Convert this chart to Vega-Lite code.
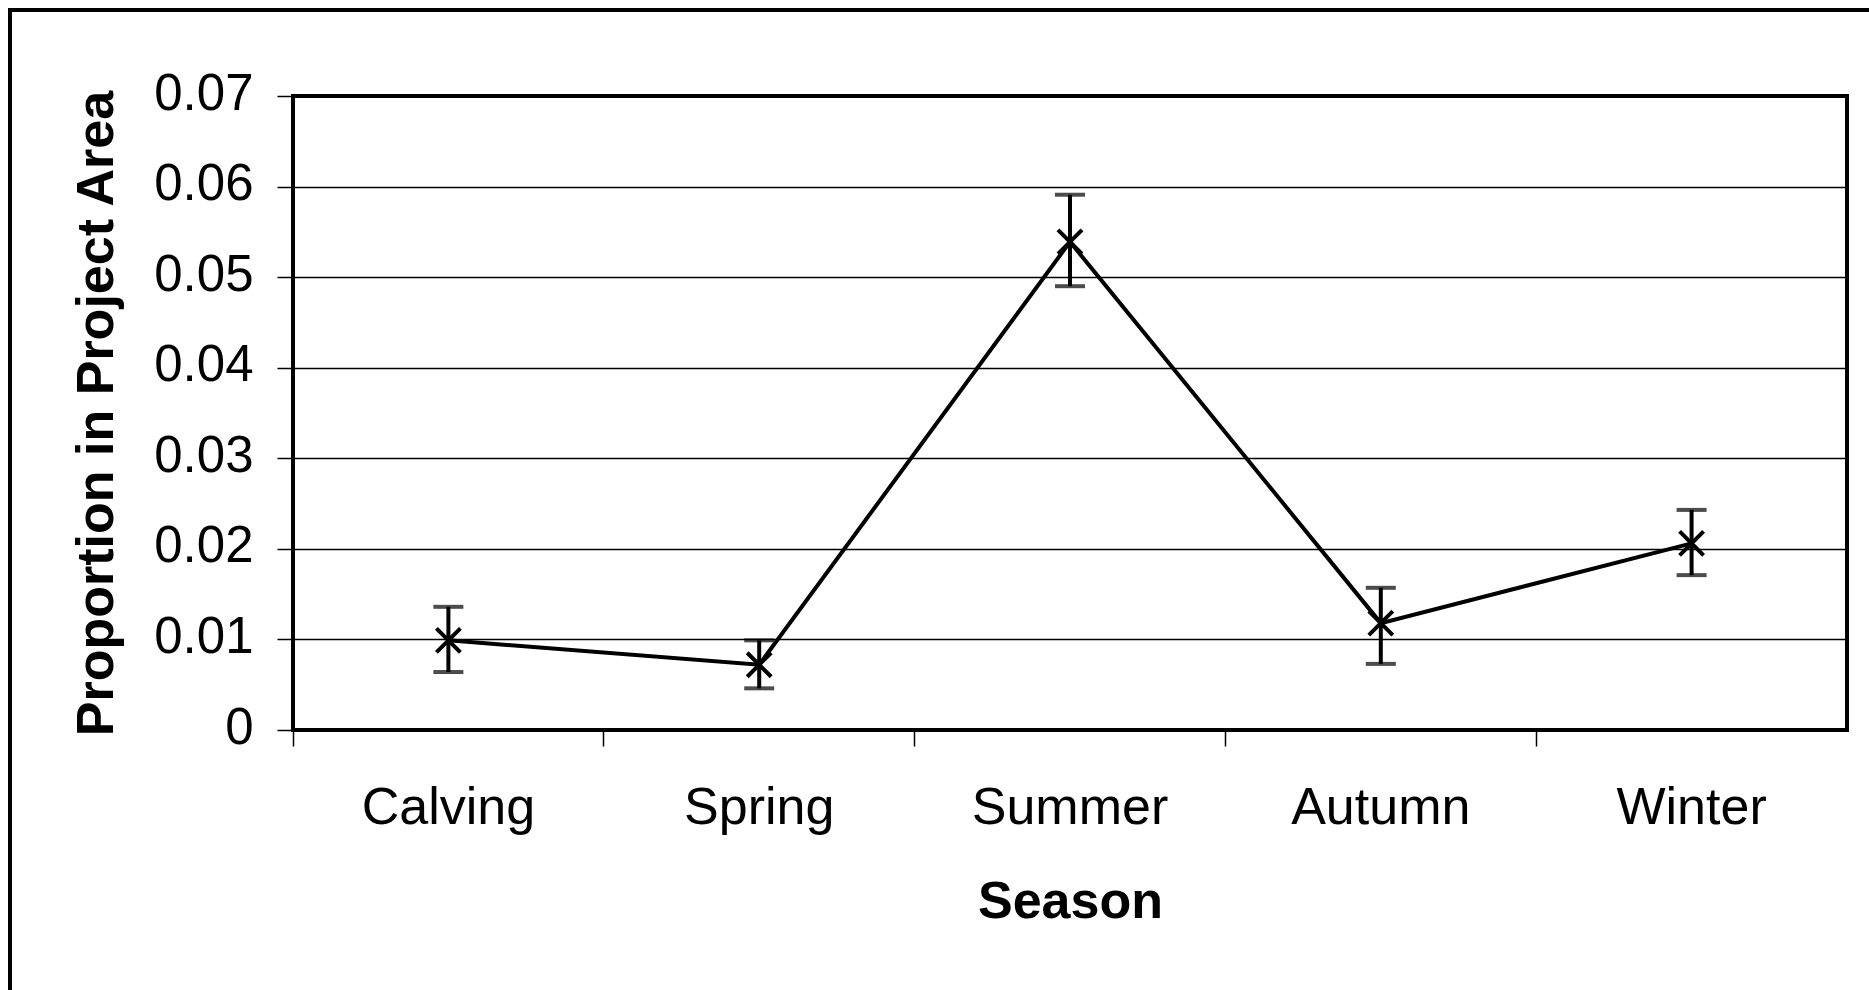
{
  "$schema": "https://vega.github.io/schema/vega-lite/v6.json",
  "width": 1554,
  "height": 634,
  "autosize": {"type": "none"},
  "padding": {"left": 293, "top": 96, "right": 22, "bottom": 260},
  "background": "white",
  "config": {
    "font": "Liberation Sans",
    "view": {"stroke": "black", "strokeWidth": 4},
    "axis": {
      "labelColor": "black",
      "titleColor": "black",
      "tickColor": "black",
      "domain": false,
      "labelLimit": 600,
      "labelFont": "Liberation Sans",
      "titleFont": "Liberation Sans"
    }
  },
  "layer": [
    {
      "data": {"values": [{"frame": "outer"}]},
      "mark": {
        "type": "rect",
        "x": -283,
        "y": -86,
        "x2": 1650,
        "y2": 1000,
        "fill": null,
        "stroke": "black",
        "strokeWidth": 4
      },
      "encoding": {}
    },
    {
      "data": {
        "values": [
          {"Season": "Calving", "value": 0.0099, "lo": 0.0064, "hi": 0.0136},
          {"Season": "Spring", "value": 0.0072, "lo": 0.0046, "hi": 0.0099},
          {"Season": "Summer", "value": 0.0539, "lo": 0.0490, "hi": 0.0591},
          {"Season": "Autumn", "value": 0.0118, "lo": 0.0073, "hi": 0.0157},
          {"Season": "Winter", "value": 0.0206, "lo": 0.0171, "hi": 0.0243}
        ]
      },
      "encoding": {
        "x": {
          "field": "Season",
          "type": "nominal",
          "sort": null,
          "scale": {"type": "band", "paddingInner": 0, "paddingOuter": 0},
          "axis": {
            "title": "Season",
            "titleFontSize": 52,
            "titleFontWeight": "bold",
            "titlePadding": 43,
            "labelFontSize": 52,
            "labelAngle": 0,
            "labelPadding": 36,
            "tickSize": 16,
            "tickWidth": 1.5,
            "bandPosition": 0,
            "grid": false
          }
        }
      },
      "layer": [
        {
          "mark": {"type": "line", "color": "black", "strokeWidth": 4},
          "encoding": {
            "y": {
              "field": "value",
              "type": "quantitative",
              "scale": {"domain": [0, 0.07], "nice": false, "zero": true},
              "axis": {
                "title": "Proportion in Project Area",
                "titleFontSize": 52,
                "titleFontWeight": "bold",
                "titlePadding": 30,
                "labelFontSize": 51,
                "labelPadding": 24,
                "labelOffset": -2,
                "tickSize": 16,
                "tickWidth": 1.5,
                "values": [0, 0.01, 0.02, 0.03, 0.04, 0.05, 0.06, 0.07],
                "format": "~g",
                "grid": true,
                "gridColor": "black",
                "gridWidth": 1.5
              }
            }
          }
        },
        {
          "mark": {"type": "rule", "color": "black", "strokeWidth": 4},
          "encoding": {
            "y": {"field": "lo", "type": "quantitative"},
            "y2": {"field": "hi"}
          }
        },
        {
          "mark": {"type": "tick", "color": "black", "thickness": 4, "size": 30, "orient": "horizontal"},
          "encoding": {"y": {"field": "lo", "type": "quantitative"}}
        },
        {
          "mark": {"type": "tick", "color": "black", "thickness": 4, "size": 30, "orient": "horizontal"},
          "encoding": {"y": {"field": "hi", "type": "quantitative"}}
        },
        {
          "mark": {
            "type": "point",
            "shape": "M-1,-1L1,1M-1,1L1,-1",
            "filled": false,
            "stroke": "black",
            "strokeWidth": 4,
            "size": 576,
            "opacity": 1
          },
          "encoding": {"y": {"field": "value", "type": "quantitative"}}
        }
      ]
    }
  ]
}
